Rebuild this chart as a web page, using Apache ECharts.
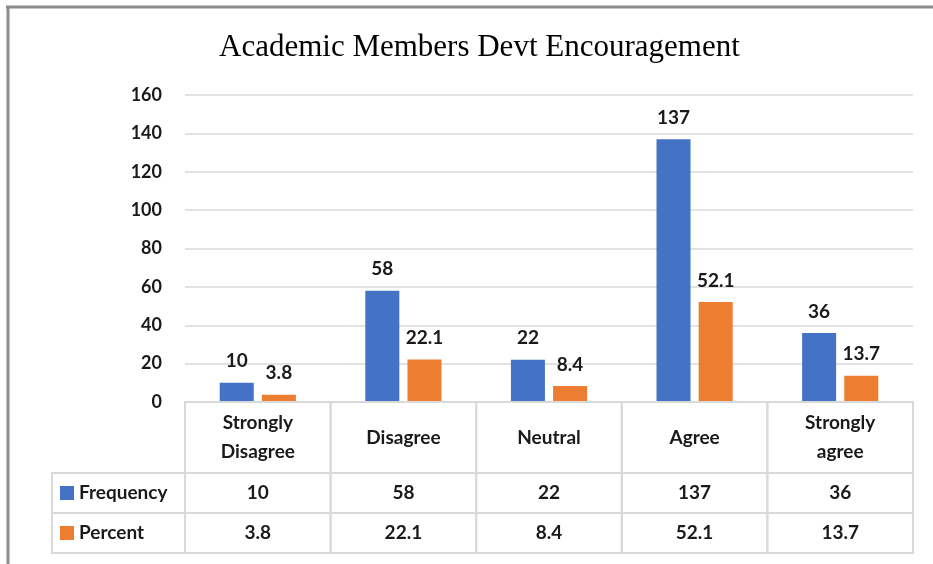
<!DOCTYPE html>
<html>
<head>
<meta charset="utf-8">
<script src="https://cdn.jsdelivr.net/npm/echarts@6/dist/echarts.min.js"></script>
<style>
  html, body { margin: 0; padding: 0; background: #fff; }
  #chart { width: 933px; height: 564px; }
</style>
</head>
<body>
<div id="chart"></div>
<script>
  // chart data
  const categories = ['Strongly\nDisagree', 'Disagree', 'Neutral', 'Agree', 'Strongly\nagree'];
  const seriesNames = ['Frequency', 'Percent'];
  const frequency = [10, 58, 22, 137, 36];
  const percent = [3.8, 22.1, 8.4, 52.1, 13.7];

  const colors = ['#4472C4', '#ED7D31'];
  const textColor = '#1a1a1a';
  const font = 'Lato, "Open Sans", sans-serif';
  const weight = 'bold';

  // table rows: header, frequency, percent (in table-axis units = px)
  const rowEdges = [0, 71, 111, 151];
  const legendLeft = 52;

  // build table cells from the data arrays
  const cells = [];
  categories.forEach((c, i) => cells.push({ col: i, row: 0, text: c }));
  [frequency, percent].forEach((arr, s) => {
    cells.push({ col: 0, row: s + 1, text: seriesNames[s], legend: true, color: colors[s] });
    arr.forEach((v, i) => cells.push({ col: i, row: s + 1, text: String(v) }));
  });

  function renderCell(params, api) {
    const cell = cells[params.dataIndex];
    const bw = api.size([1, 0])[0];
    const top = api.coord([cell.col, rowEdges[cell.row]]);
    const bottom = api.coord([cell.col, rowEdges[cell.row + 1]]);
    let x, w;
    if (cell.legend) {
      x = legendLeft;
      w = top[0] - bw / 2 - legendLeft;
    } else {
      x = top[0] - bw / 2;
      w = bw;
    }
    const y = top[1];
    const h = bottom[1] - top[1];
    const children = [{
      type: 'rect',
      shape: { x: x, y: y, width: w, height: h },
      style: { fill: 'none', stroke: '#d9d9d9', lineWidth: 2 }
    }];
    if (cell.legend) {
      children.push({
        type: 'rect',
        shape: { x: x + 8, y: y + h / 2 - 7, width: 14, height: 14 },
        style: { fill: cell.color }
      });
      children.push({
        type: 'text',
        style: {
          text: cell.text, x: x + 27, y: y + h / 2,
          align: 'left', verticalAlign: 'middle',
          fontSize: 19, fontWeight: weight, fontFamily: font, fill: textColor
        }
      });
    } else {
      children.push({
        type: 'text',
        style: {
          text: cell.text, x: x + w / 2, y: y + h / 2,
          align: 'center', verticalAlign: 'middle', lineHeight: 29,
          fontSize: 19, fontWeight: weight, fontFamily: font, fill: textColor
        }
      });
    }
    return { type: 'group', children: children };
  }

  const labelStyle = {
    show: true, position: 'top', distance: 12,
    fontSize: 19, fontWeight: weight, fontFamily: font, color: textColor
  };

  const chart = echarts.init(document.getElementById('chart'));
  chart.setOption({
    animation: false,
    backgroundColor: '#fff',
    title: {
      text: 'Academic Members Devt Encouragement',
      left: 214,
      top: 27,
      textStyle: {
        fontFamily: '"Liberation Serif", "Times New Roman", serif',
        fontWeight: 'normal',
        fontSize: 31,
        color: '#000'
      }
    },
    graphic: [
      { type: 'line', shape: { x1: 6, y1: 7, x2: 933, y2: 7 }, style: { stroke: '#8c8c8c', lineWidth: 3 } },
      { type: 'line', shape: { x1: 8, y1: 6, x2: 8, y2: 564 }, style: { stroke: '#8c8c8c', lineWidth: 3 } }
    ],
    grid: [
      { left: 185, right: 20, top: 95, bottom: 162 },
      { left: 185, right: 20, top: 402, height: 151 }
    ],
    xAxis: [
      {
        type: 'category', gridIndex: 0, data: categories,
        axisLine: { show: false }, axisTick: { show: false }, axisLabel: { show: false }
      },
      {
        type: 'category', gridIndex: 1, data: categories,
        axisLine: { show: false }, axisTick: { show: false }, axisLabel: { show: false }
      }
    ],
    yAxis: [
      {
        type: 'value', gridIndex: 0, min: 0, max: 160, interval: 20,
        axisLine: { show: false }, axisTick: { show: false },
        axisLabel: { fontSize: 18, fontWeight: weight, fontFamily: font, color: textColor, margin: 23 },
        splitLine: { lineStyle: { color: '#d9d9d9', width: 1.5 } }
      },
      {
        type: 'value', gridIndex: 1, min: 0, max: 151, inverse: true, show: false
      }
    ],
    series: [
      {
        name: seriesNames[0], type: 'bar', xAxisIndex: 0, yAxisIndex: 0,
        data: frequency, barWidth: 34, barGap: '24%',
        itemStyle: { color: colors[0] },
        label: labelStyle
      },
      {
        name: seriesNames[1], type: 'bar', xAxisIndex: 0, yAxisIndex: 0,
        data: percent, barWidth: 34,
        itemStyle: { color: colors[1] },
        label: labelStyle
      },
      {
        type: 'custom', xAxisIndex: 1, yAxisIndex: 1,
        data: cells.map(c => [c.col, rowEdges[c.row]]),
        renderItem: renderCell,
        clip: false, silent: true, z: 5
      }
    ]
  });
</script>
</body>
</html>
